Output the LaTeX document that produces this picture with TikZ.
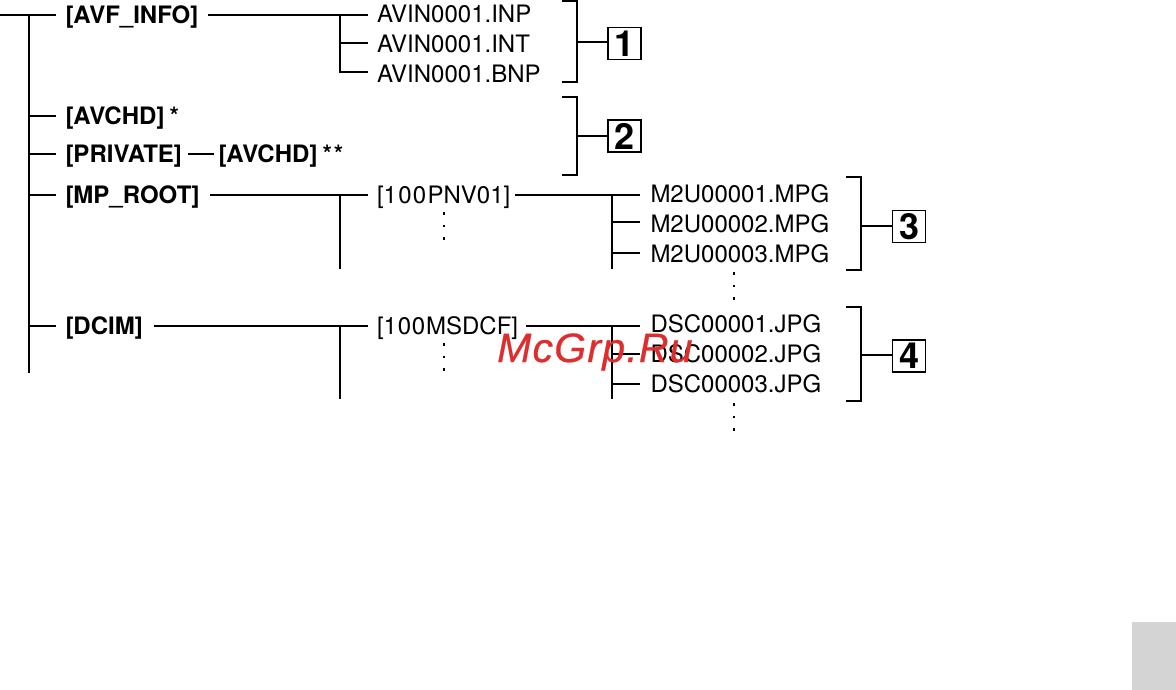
\documentclass[tikz,border=0pt]{standalone}
\usepackage{fontspec}
\setmainfont{TeX Gyre Heros}
\newfontfamily\wmfont[LetterSpace=3,FakeBold=0.6]{Liberation Sans}
\definecolor{wmred}{RGB}{222,45,45}
\definecolor{tabgray}{RGB}{212,212,212}
\tikzset{
  line/.style={draw=black,line width=2.1pt},
  txt/.style={anchor=base west,inner sep=0pt,outer sep=0pt,text height=17pt,text depth=0pt,font=\fontsize{24}{28}\selectfont},
  boldtxt/.style={txt,font=\fontsize{24}{28}\selectfont\bfseries},
  numbox/.style={draw=black,line width=1.6pt,inner sep=0pt,minimum width=33pt,minimum height=32pt,font=\fontsize{36}{38}\selectfont\bfseries},
  vdots/.style={draw=black,line width=2.8pt,dash pattern=on 2.8pt off 9.7pt}
}
\begin{document}
\begin{tikzpicture}[x=1pt,y=-1pt]
\useasboundingbox (0,0) rectangle (1176,690);
\fill[tabgray] (1132,622) rectangle (1176,690);
% folders
\node[boldtxt] (avf) at (65.5,24) {[AVF\_INFO]};
\node[boldtxt] (avchdA) at (65.5,125) {[AVCHD]\kern5pt *};
\node[boldtxt] (private) at (65.5,163) {[PRIVATE]};
\node[boldtxt] (avchdB) at (218.5,163) {[AVCHD]\kern5pt *\kern2pt *};
\node[boldtxt] (mproot) at (65.5,204) {[MP\_ROOT]};
\node[boldtxt] (dcim) at (65.5,334.5) {[DCIM]};
% files
\node[txt] (inp) at (377,23) {AVIN0001.INP};
\node[txt] (int) at (377,53) {AVIN0001.INT};
\node[txt] (bnp) at (377,83) {AVIN0001.BNP};
\node[txt] (pnv) at (377,204) {[1\kern1.3pt 0\kern1.3pt 0\kern1.3pt PNV01]};
\node[txt] (msdcf) at (377,334.5) {[1\kern.8pt 0\kern.8pt 0\kern.8pt MSDCF]};
\node[txt] (mA) at (650.5,203) {M2U00001.MPG};
\node[txt] (mB) at (650.5,232.5) {M2U00002.MPG};
\node[txt] (mC) at (650.5,262.5) {M2U00003.MPG};
\node[txt] (dA) at (650.5,332.5) {DSC00001.JPG};
\node[txt] (dB) at (650.5,362.5) {DSC00002.JPG};
\node[txt] (dC) at (650.5,392.5) {DSC00003.JPG};
% number boxes
\node[numbox] (n1) at (624.5,43.5) {1};
\node[numbox] (n2) at (624.5,136) {2};
\node[numbox] (n3) at (909,226.5) {3};
\node[numbox] (n4) at (909,356) {4};
% helper coordinates
\coordinate (root) at (0,15);
\coordinate (rootbus) at (29,15);
\coordinate (rootend) at (29,373);
\coordinate (busA) at (340,15);
\coordinate (busAi) at (340,43);
\coordinate (busAj) at (340,72);
\coordinate (busB) at (340,195);
\coordinate (busBe) at (340,269);
\coordinate (busC) at (340,326);
\coordinate (busCe) at (340,399);
\coordinate (busD) at (612,195);
\coordinate (busDi) at (612,222);
\coordinate (busDj) at (612,253);
\coordinate (busDe) at (612,269);
\coordinate (busE) at (612,326);
\coordinate (busEi) at (612,354);
\coordinate (busEj) at (612,384);
\coordinate (busEe) at (612,399);
\coordinate (privY) at (200,154);
\coordinate (brA) at (577,42);
\coordinate (brB) at (577,136);
\coordinate (brC) at (861,226);
\coordinate (brD) at (861,355);
% root tree
\draw[line] (root) -- (56,15);
\draw[line] (rootbus) -- (rootend);
\draw[line] (29,116) -- (56,116);
\draw[line] (29,154) -- (56,154);
\draw[line] (29,195) -- (56,195);
\draw[line] (29,326) -- (56,326);
\draw[line] (private.east |- privY) ++(6,0) -- (213.5,154);
% AVF_INFO
\draw[line] (avf.east |- busA) ++(10,0) -- (368,15);
\draw[line] (busA) -- (busAj) -- (368,72);
\draw[line] (busAi) -- (368,43);
% MP_ROOT
\draw[line] (mproot.east |- busB) ++(10,0) -- (368,195);
\draw[line] (busB) -- (busBe);
\draw[line] (pnv.east |- busD) ++(5,0) -- (640,195);
\draw[line] (busD) -- (busDe);
\draw[line] (busDi) -- (640,222);
\draw[line] (busDj) -- (640,253);
% DCIM
\draw[line] (dcim.east |- busC) ++(11,0) -- (368,326);
\draw[line] (busC) -- (busCe);
\draw[line] (msdcf.east |- busE) ++(8,0) -- (640,326);
\draw[line] (busE) -- (busEe);
\draw[line] (busEi) -- (640,354);
\draw[line] (busEj) -- (640,384);
% brackets
\draw[line] (562,1) -- (577,1) -- (577,82) -- (562,82);
\draw[line] (brA) -- (n1.west |- brA);
\draw[line] (562,97) -- (577,97) -- (577,175) -- (562,175);
\draw[line] (brB) -- (n2.west |- brB);
\draw[line] (846,177) -- (861,177) -- (861,270) -- (846,270);
\draw[line] (brC) -- (n3.west |- brC);
\draw[line] (846,307) -- (861,307) -- (861,401) -- (846,401);
\draw[line] (brD) -- (n4.west |- brD);
% dots
\draw[vdots] (444,212) -- (444,240);
\draw[vdots] (444,343) -- (444,371);
\draw[vdots] (734,272) -- (734,300);
\draw[vdots] (734,403) -- (734,431);
% watermark
\node[anchor=base west,inner sep=0pt,text=wmred,font=\wmfont\itshape\fontsize{41}{44}\selectfont] (wm) at (497,362) {McGrp.Ru};
\end{tikzpicture}
\end{document}
